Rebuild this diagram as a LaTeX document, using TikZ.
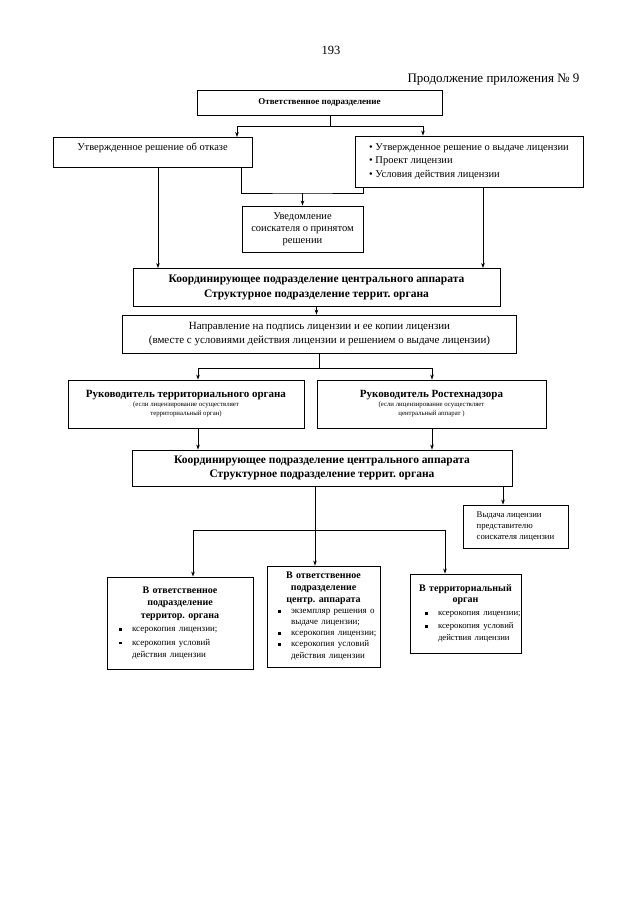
\documentclass[tikz,border=0pt]{standalone}
\usepackage{fontspec}
\setmainfont{Liberation Serif}
\usetikzlibrary{arrows.meta}
\frenchspacing

\newcommand{\fsz}[2]{\fontsize{#1}{#2}\selectfont}
% square bullet items, one line per paragraph
\newlength{\bulind}
\newcommand{\sqitem}[1]{\par\noindent\hspace*{\bulind}\makebox[13pt][l]{\rule[1pt]{2.6pt}{2.6pt}}\mbox{#1}}
\newcommand{\sqcont}[1]{\par\noindent\hspace*{\bulind}\hspace*{13pt}\mbox{#1}}

\tikzset{
  box/.style={draw, line width=0.9pt, inner sep=2pt, align=center},
  lowbox/.style={draw, line width=0.9pt, inner xsep=3pt, inner ysep=3pt},
  link/.style={line width=0.7pt},
  arr/.style={link, -{Stealth[length=5pt,width=3.6pt]}},
}

\begin{document}
\begin{tikzpicture}[x=1pt,y=-1pt]
\useasboundingbox (0,0) rectangle (640,905);

\node[font=\fsz{12.5}{14}] (pagenum) at (331,50) {193};
\node[font=\fsz{13}{15}, anchor=east] (appx) at (583,80) {Продолжение приложения №~9};

% first level
\node[box, minimum width=245pt, minimum height=25pt, font=\bfseries\fsz{9}{10}] (otv) at (319.5,102.5) {Ответственное подразделение};

\node[box, anchor=north, inner ysep=0pt, minimum width=199pt, text height=13.5pt, text depth=16.5pt, font=\fsz{10.5}{12}] (refuse) at (152.5,137) {Утвержденное решение об отказе};
\node[box, align=left, minimum width=228pt, minimum height=51pt, font=\fsz{10.5}{13.5}] (issue) at (469,161.5) {\textbullet\ Утвержденное решение о выдаче лицензии\\\textbullet\ Проект лицензии\\\textbullet\ Условия действия лицензии};

\node[box, minimum width=121pt, minimum height=46pt, font=\fsz{10.5}{12}] (notify) at (302.5,229) {Уведомление\\соискателя о принятом\\решении};

% coordination
\node[box, minimum width=367pt, minimum height=38pt, font=\bfseries\fsz{11.5}{14.5}] (coord1) at (316.5,287.5) {Координирующее подразделение центрального аппарата\\Структурное подразделение террит. органа};
\node[box, minimum width=394pt, minimum height=38pt, font=\fsz{11}{14}] (napr) at (319.5,334) {Направление на подпись лицензии и ее копии лицензии\\(вместе с условиями действия лицензии и решением о выдаче лицензии)};

% heads
\node[box, minimum width=236pt, minimum height=48pt, font=\fsz{6.8}{9}] (ruk1) at (186,404) {{\bfseries\fsz{11}{12}Руководитель территориального органа}\\(если лицензирование осуществляет\\территориальный орган)};
\node[box, minimum width=229pt, minimum height=48pt, font=\fsz{6.8}{9}] (ruk2) at (431.5,404) {{\bfseries\fsz{11}{12}Руководитель Ростехнадзора}\\(если лицензирование осуществляет\\центральный аппарат )};

\node[box, minimum width=380pt, minimum height=36pt, font=\bfseries\fsz{11.5}{14.5}] (coord2) at (322,468) {Координирующее подразделение центрального аппарата\\Структурное подразделение террит. органа};

\node[box, align=left, minimum width=105pt, minimum height=43pt, font=\fsz{8.7}{11}] (vyd) at (515.5,526.5) {Выдача лицензии\\представителю\\соискателя лицензии};

% bottom row
\node[lowbox, text width=140pt, minimum height=92pt] (terr) at (180,623) {{\centering\bfseries\fsz{10}{12.5}В ответственное\\подразделение\\территор. органа\par}\raggedright\fsz{9}{13.5}\setlength{\bulind}{9pt}\sqitem{ксерокопия лицензии;}\sqitem{ксерокопия условий}\sqcont{действия лицензии}};
\node[lowbox, text width=107pt, minimum height=101pt] (centr) at (323.5,616.5) {{\centering\bfseries\fsz{10}{12}В ответственное\\подразделение\\центр. аппарата\par}\raggedright\fsz{9}{11}\setlength{\bulind}{8pt}\sqitem{экземпляр решения о}\sqcont{выдаче лицензии;}\sqitem{ксерокопия лицензии;}\sqitem{ксерокопия условий}\sqcont{действия лицензии}};
\node[lowbox, text width=105pt, minimum height=79pt] (terrorg) at (465.5,613.5) {{\centering\bfseries\fsz{10}{11.5}В территориальный\\орган\par}\raggedright\fsz{8.7}{13}\setlength{\bulind}{12pt}\sqitem{ксерокопия лицензии;}\sqitem{ксерокопия условий}\sqcont{действия лицензии}};

% junctions and drop lines
\coordinate (j1) at (330,126);
\coordinate (j2) at (302.5,193);
\coordinate (j3) at (319.5,368);
\coordinate (j4) at (315,530);
\coordinate (xL) at (158,0);
\coordinate (xR) at (483,0);
\coordinate (xA) at (198,0);
\coordinate (xB) at (432,0);
\coordinate (xV) at (503,0);
\coordinate (xC) at (193,0);
\coordinate (xD) at (445,0);

\draw[link] (otv.south -| j1) -- (j1);
\draw[arr] (j1) -| ([xshift=84.5pt]refuse.north);
\draw[arr] (j1) -| ([xshift=-46pt]issue.north);

\draw[link] ([xshift=88.5pt]refuse.south) |- (j2) -| ([xshift=-106pt]issue.south);
\draw[arr] (j2) -- (notify.north);

\draw[arr] (refuse.south -| xL) -- (coord1.north -| xL);
\draw[arr] (issue.south -| xR) -- (coord1.north -| xR);

\draw[arr] (coord1.south) -- (coord1.south |- napr.north);

\draw[link] (napr.south -| j3) -- (j3);
\draw[arr] (j3) -| (ruk1.north -| xA);
\draw[arr] (j3) -| (ruk2.north -| xB);

\draw[arr] (ruk1.south -| xA) -- (coord2.north -| xA);
\draw[arr] (ruk2.south -| xB) -- (coord2.north -| xB);

\draw[arr] (coord2.south -| xV) -- (vyd.north -| xV);

\draw[link] (coord2.south -| j4) -- (j4);
\draw[arr] (j4) -| (terr.north -| xC);
\draw[arr] (j4) -- (centr.north -| j4);
\draw[arr] (j4) -| (terrorg.north -| xD);
\end{tikzpicture}
\end{document}
